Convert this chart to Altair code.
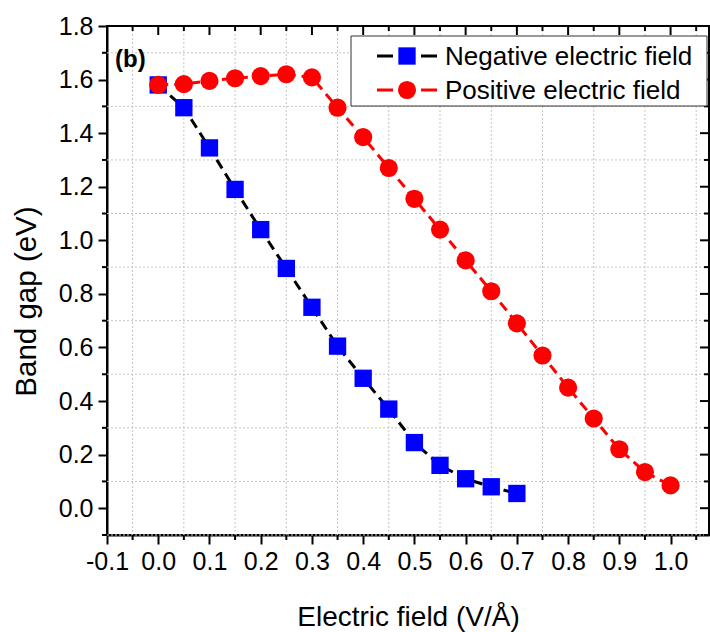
import altair as alt
import pandas as pd

# ---- data ----
neg_x = [0.0, 0.05, 0.10, 0.15, 0.20, 0.25, 0.30, 0.35, 0.40, 0.45, 0.50, 0.55, 0.60, 0.65, 0.70]
neg_y = [1.58, 1.495, 1.345, 1.19, 1.04, 0.895, 0.75, 0.605, 0.485, 0.37, 0.245, 0.16, 0.11, 0.08, 0.055]

pos_x = [0.0, 0.05, 0.10, 0.15, 0.20, 0.25, 0.30, 0.35, 0.40, 0.45, 0.50,
         0.55, 0.60, 0.65, 0.70, 0.75, 0.80, 0.85, 0.90, 0.95, 1.00]
pos_y = [1.58, 1.583, 1.595, 1.605, 1.613, 1.62, 1.608, 1.495, 1.385, 1.27, 1.155,
         1.04, 0.925, 0.81, 0.69, 0.57, 0.45, 0.335, 0.22, 0.135, 0.085]

x_major = [-0.1, 0.0, 0.1, 0.2, 0.3, 0.4, 0.5, 0.6, 0.7, 0.8, 0.9, 1.0]
x_minor = [-0.05, 0.05, 0.15, 0.25, 0.35, 0.45, 0.55, 0.65, 0.75, 0.85, 0.95, 1.05]
y_major = [0.0, 0.2, 0.4, 0.6, 0.8, 1.0, 1.2, 1.4, 1.6, 1.8]
y_minor = [-0.1, 0.1, 0.3, 0.5, 0.7, 0.9, 1.1, 1.3, 1.5, 1.7]

legend_labels = ["Negative electric field", "Positive electric field"]

W, H = 602, 509
FONT = "Liberation Sans"
LABEL_EXPR = "datum.value < 0 ? '-' + format(-datum.value, '.1f') : format(datum.value, '.1f')"

neg = pd.DataFrame({"x": neg_x, "y": neg_y})
pos = pd.DataFrame({"x": pos_x, "y": pos_y})
xmaj = pd.DataFrame({"x": x_major})
xmin = pd.DataFrame({"x": x_minor})
ymaj = pd.DataFrame({"y": y_major})
ymin = pd.DataFrame({"y": y_minor})
one = pd.DataFrame({"a": [0]})

xs = alt.Scale(domain=[-0.1, 1.075], nice=False, zero=False)
ys = alt.Scale(domain=[-0.1, 1.8], nice=False, zero=False)

X = alt.X("x:Q", scale=xs, title="Electric field (V/Å)",
          axis=alt.Axis(values=x_major, labelExpr=LABEL_EXPR, grid=False, labelOverlap=False,
                        labelFlush=False))
Y = alt.Y("y:Q", scale=ys, title="Band gap (eV)",
          axis=alt.Axis(values=y_major, labelExpr=LABEL_EXPR, grid=False, labelOverlap=False,
                        labelFlush=False, titleY=275))

xq = alt.X("x:Q", scale=xs)
yq = alt.Y("y:Q", scale=ys)

grid_x = alt.Chart(xmin).mark_rule(color="#c4c4c4", strokeWidth=1, strokeDash=[2, 2]).encode(x=xq)
grid_y = alt.Chart(ymin).mark_rule(color="#c4c4c4", strokeWidth=1, strokeDash=[2, 2]).encode(y=yq)

# minor ticks (outward bottom/left), inward top/right ticks
bot_minor = alt.Chart(xmin).mark_rule(color="black", strokeWidth=2).encode(
    x=xq, y=alt.value(H), y2=alt.value(H + 5))
left_minor = alt.Chart(ymin).mark_rule(color="black", strokeWidth=2).encode(
    y=yq, x=alt.value(0), x2=alt.value(-5))
top_major = alt.Chart(xmaj).mark_rule(color="black", strokeWidth=2).encode(
    x=xq, y=alt.value(0), y2=alt.value(9))
top_minor = alt.Chart(xmin).mark_rule(color="black", strokeWidth=2).encode(
    x=xq, y=alt.value(0), y2=alt.value(5))
right_major = alt.Chart(ymaj).mark_rule(color="black", strokeWidth=2).encode(
    y=yq, x=alt.value(W), x2=alt.value(W - 9))
right_minor = alt.Chart(ymin).mark_rule(color="black", strokeWidth=2).encode(
    y=yq, x=alt.value(W), x2=alt.value(W - 5))

neg_line = alt.Chart(neg).mark_line(color="black", strokeWidth=3, strokeDash=[10, 6]).encode(x=X, y=Y)
pos_line = alt.Chart(pos).mark_line(color="#ff0000", strokeWidth=3, strokeDash=[10, 6]).encode(x=xq, y=yq)
neg_pts = alt.Chart(neg).mark_point(shape="square", filled=True, size=300, color="#0000ff", opacity=1).encode(x=xq, y=yq)
pos_pts = alt.Chart(pos).mark_point(shape="circle", filled=True, size=330, color="#ff0000", opacity=1).encode(x=xq, y=yq)

label_b = alt.Chart(one).mark_text(text="(b)", font=FONT, fontSize=24, fontWeight="bold",
                                   align="left", baseline="alphabetic", color="black").encode(
    x=alt.value(8), y=alt.value(41))

# legend
leg_box = alt.Chart(one).mark_rect(fill="white", stroke="#333333", strokeWidth=1).encode(
    x=alt.value(244), x2=alt.value(600), y=alt.value(10), y2=alt.value(80))
leg_l1 = alt.Chart(one).mark_rule(color="black", strokeWidth=3, strokeDash=[16, 28]).encode(
    x=alt.value(270), x2=alt.value(330), y=alt.value(30))
leg_p1 = alt.Chart(one).mark_point(shape="square", filled=True, size=300, color="#0000ff", opacity=1).encode(
    x=alt.value(300), y=alt.value(30))
leg_t1 = alt.Chart(one).mark_text(text=legend_labels[0], font=FONT, fontSize=26, align="left",
                                  baseline="alphabetic", color="black").encode(x=alt.value(338), y=alt.value(39))
leg_l2 = alt.Chart(one).mark_rule(color="#ff0000", strokeWidth=3, strokeDash=[16, 28]).encode(
    x=alt.value(270), x2=alt.value(330), y=alt.value(64))
leg_p2 = alt.Chart(one).mark_point(shape="circle", filled=True, size=330, color="#ff0000", opacity=1).encode(
    x=alt.value(300), y=alt.value(64))
leg_t2 = alt.Chart(one).mark_text(text=legend_labels[1], font=FONT, fontSize=26, align="left",
                                  baseline="alphabetic", color="black").encode(x=alt.value(338), y=alt.value(73))

chart = alt.layer(
    grid_x, grid_y, neg_line, pos_line, neg_pts, pos_pts,
    bot_minor, left_minor, top_major, top_minor, right_major, right_minor,
    label_b, leg_box, leg_l1, leg_p1, leg_t1, leg_l2, leg_p2, leg_t2,
).properties(
    width=W, height=H,
    autosize=alt.AutoSizeParams(type="none"),
    padding={"left": 107, "top": 26, "right": 1, "bottom": 97},
).configure_view(
    stroke="black", strokeWidth=2
).configure_axis(
    labelFont=FONT, titleFont=FONT, labelFontSize=25, titleFontSize=28,
    titleFontWeight="normal", labelColor="black", titleColor="black",
    domainColor="black", domainWidth=2, tickColor="black", tickWidth=2, tickSize=9,
    labelPadding=5,
).configure_axisX(
    titlePadding=29
).configure_axisY(
    titlePadding=17, titleFontSize=29.5
)

chart.save("out.html", embed_options={"renderer": "svg", "actions": False})
